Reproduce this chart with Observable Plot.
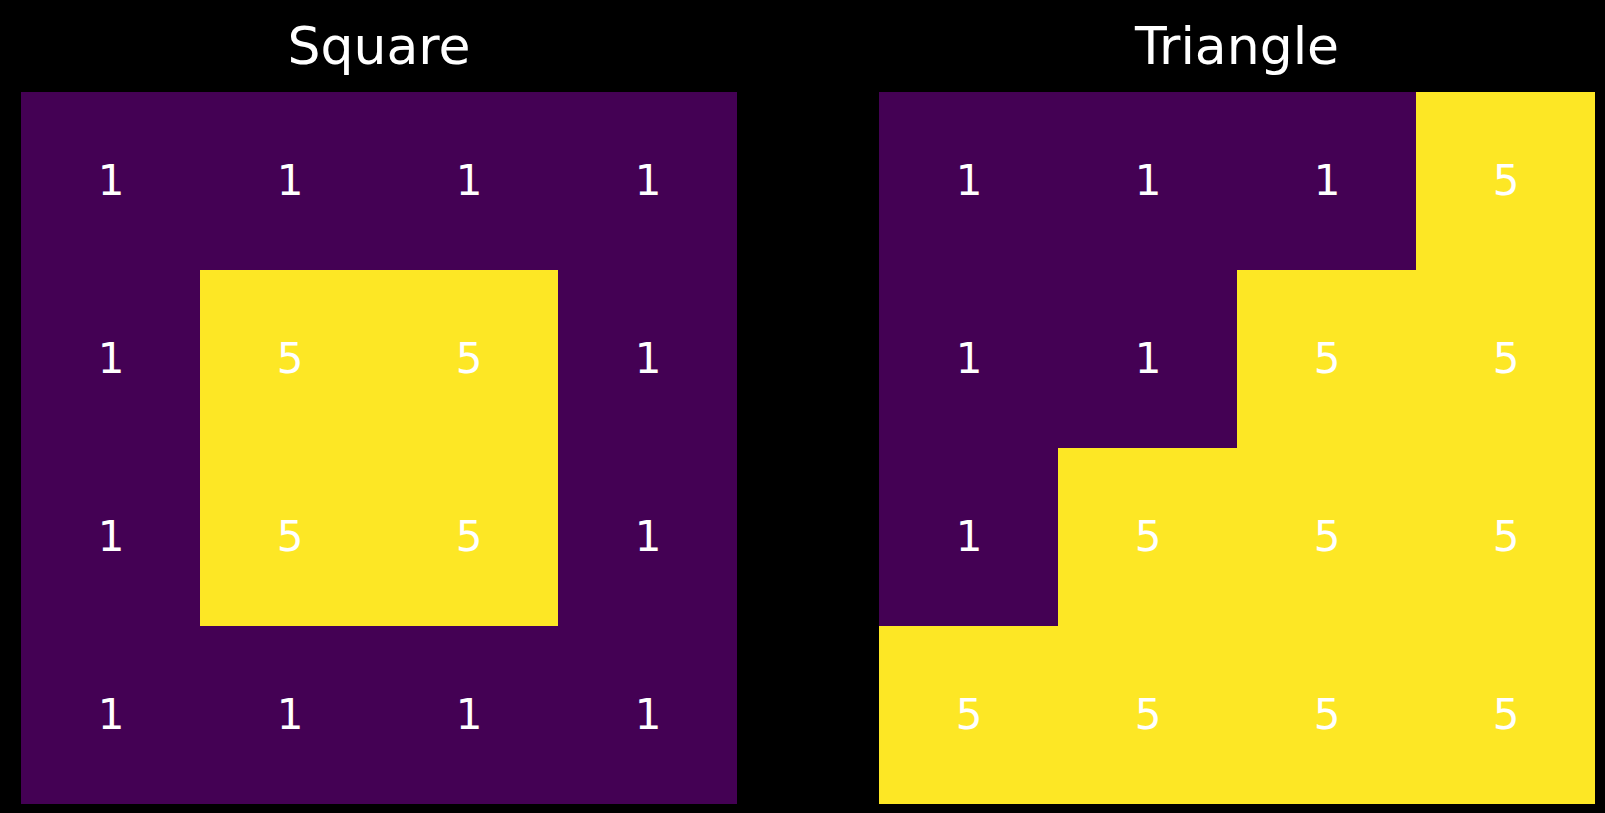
<!DOCTYPE html>
<html>
<head>
<meta charset="utf-8">
<script src="https://cdn.jsdelivr.net/npm/d3@7"></script>
<script src="https://cdn.jsdelivr.net/npm/@observablehq/plot@0.6"></script>
<style>
  html, body { margin: 0; padding: 0; background: #000; }
  #wrap { position: relative; width: 1605px; height: 813px; background: #000; overflow: hidden; font-family: "DejaVu Sans", sans-serif; }
  .title { position: absolute; top: 20px; width: 716px; text-align: center; color: #fff; font-size: 52px; line-height: 52px; font-family: "DejaVu Sans", sans-serif; }
  .panel { position: absolute; top: 92px; }
</style>
</head>
<body>
<div id="wrap"></div>
<script>
const rows = [0, 1, 2, 3];
const cols = [0, 1, 2, 3];
const squareTitle = "Square";
const triangleTitle = "Triangle";
const squareValues = [
  [1, 1, 1, 1],
  [1, 5, 5, 1],
  [1, 5, 5, 1],
  [1, 1, 1, 1]
];
const triangleValues = [
  [1, 1, 1, 5],
  [1, 1, 5, 5],
  [1, 5, 5, 5],
  [5, 5, 5, 5]
];

function toCells(values) {
  const out = [];
  rows.forEach((r) => cols.forEach((c) => out.push({row: r, col: c, value: values[r][c]})));
  return out;
}

function panel(values) {
  const data = toCells(values);
  return Plot.plot({
    width: 716,
    height: 712,
    margin: 0,
    style: {background: "#000", fontFamily: "DejaVu Sans, sans-serif"},
    x: {domain: cols, axis: null, padding: 0},
    y: {domain: rows, axis: null, padding: 0},
    color: {type: "linear", scheme: "viridis", domain: [1, 5]},
    marks: [
      Plot.cell(data, {x: "col", y: "row", fill: "value", inset: 0}),
      Plot.text(data, {x: "col", y: "row", text: (d) => String(d.value), fill: "#fff", fontSize: 42})
    ]
  });
}

const wrap = document.getElementById("wrap");
const specs = [
  {title: squareTitle, values: squareValues, left: 21},
  {title: triangleTitle, values: triangleValues, left: 879}
];
for (const s of specs) {
  const t = document.createElement("div");
  t.className = "title";
  t.style.left = s.left + "px";
  t.textContent = s.title;
  wrap.appendChild(t);
  const p = document.createElement("div");
  p.className = "panel";
  p.style.left = s.left + "px";
  p.appendChild(panel(s.values));
  wrap.appendChild(p);
}
</script>
</body>
</html>
